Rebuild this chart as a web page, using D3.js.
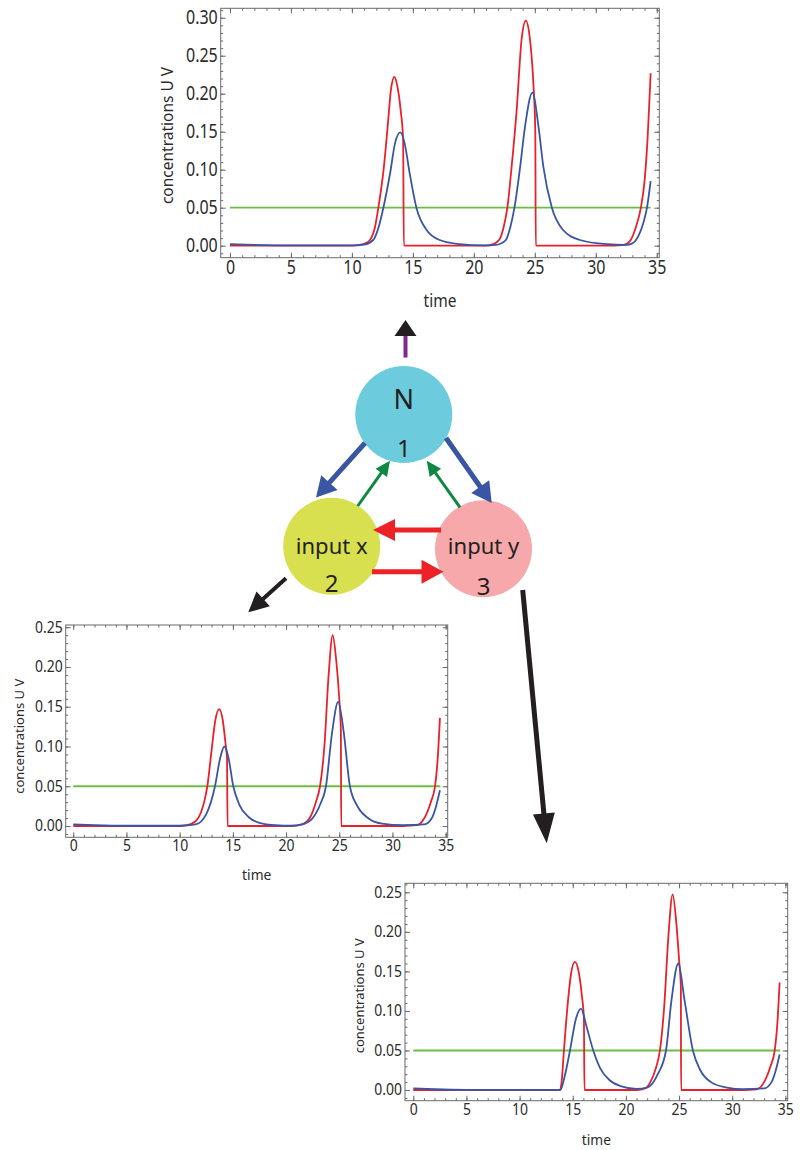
<!DOCTYPE html>
<html>
<head>
<meta charset="utf-8">
<script src="https://cdn.jsdelivr.net/npm/d3@7"></script>
<style>
  body { margin: 0; background: #fff; }
  svg { display: block; }
</style>
</head>
<body>
<script>
// values, pairs are [time, concentration]
// top plot (node 1)
var topU = [[0,0],[10,0],[10.6,0.001],[11.1,0.003],[11.5,0.008],[11.9,0.025],[12.17,0.05],[12.6,0.1],[12.95,0.16],[13.2,0.205],[13.48,0.222],[13.75,0.208],[14.0,0.178],[14.2,0.14],[14.26,0],
            [21,0],[21.6,0.002],[22.1,0.008],[22.45,0.025],[22.75,0.05],[23.1,0.104],[23.5,0.176],[23.92,0.272],[24.26,0.296],[24.6,0.272],[24.88,0.214],[25.04,0.15],[25.08,0],
            [31.5,0],[32.3,0.001],[32.8,0.006],[33.3,0.025],[33.7,0.05],[34.0,0.085],[34.2,0.128],[34.5,0.227]];
var topV = [[0,0.002],[2,0.001],[5,0.0003],[10,0.0003],[11,0.0015],[11.75,0.0075],[12.2,0.025],[12.58,0.05],[13.13,0.095],[13.54,0.135],[13.97,0.149],[14.32,0.135],[14.74,0.095],[15.29,0.05],[16.11,0.021],[17.2,0.0075],[18.85,0.002],[20.76,0.0003],
            [21.8,0.001],[22.6,0.007],[23.0,0.025],[23.33,0.05],[23.8,0.104],[24.2,0.157],[24.8,0.2015],[25.3,0.157],[25.7,0.104],[26.4,0.05],[27.3,0.021],[28.7,0.0075],[30.9,0.002],[32.5,0.001],
            [33.0,0.003],[33.5,0.013],[33.9,0.03],[34.2,0.05],[34.5,0.085]];
// bottom left plot (node 2)
var leftU = [[0,0],[10,0],[10.7,0.001],[11.5,0.006],[12.0,0.017],[12.3,0.03],[12.6,0.05],[13.0,0.095],[13.35,0.133],[13.72,0.147],[14.05,0.133],[14.3,0.105],[14.45,0.085],[14.5,0],
             [20.5,0],[21.5,0.002],[22.3,0.012],[22.8,0.03],[23.19,0.05],[23.6,0.1],[24.0,0.19],[24.38,0.24],[24.7,0.21],[25.0,0.16],[25.15,0.12],[25.18,0],
             [31,0],[32.3,0.001],[33.0,0.01],[33.6,0.03],[34.0,0.05],[34.25,0.085],[34.46,0.136]];
var leftV = [[0,0.002],[2,0.001],[5,0.0003],[10,0.0003],[11.5,0.002],[12.5,0.015],[13.32,0.05],[13.8,0.085],[14.2,0.1],[14.6,0.085],[15.04,0.05],[15.6,0.027],[16.5,0.011],[17.5,0.004],[19,0.001],[20.5,0.0003],
             [21.5,0.002],[22.5,0.01],[23.2,0.027],[23.75,0.05],[24.3,0.115],[24.9,0.156],[25.4,0.12],[26.0,0.05],[26.7,0.025],[27.7,0.01],[29,0.003],[31,0.001],
             [33,0.002],[33.7,0.01],[34.1,0.025],[34.46,0.045]];
// bottom right plot (node 3)
var rightU = [[0,0],[13.8,0],[13.95,0.01],[14.17,0.05],[14.5,0.105],[14.85,0.148],[15.2,0.162],[15.55,0.15],[15.85,0.12],[16.05,0.09],[16.1,0],
              [21,0],[21.8,0.002],[22.3,0.01],[22.8,0.027],[23.2,0.05],[23.6,0.105],[24.0,0.195],[24.4,0.2475],[24.75,0.21],[25.0,0.165],[25.17,0.13],[25.19,0],
              [31,0],[32.3,0.001],[33.0,0.01],[33.6,0.03],[34.0,0.05],[34.25,0.085],[34.46,0.136]];
var rightV = [[0,0.002],[2,0.001],[5,0.0003],[13.85,0.0002],[14.2,0.015],[14.74,0.05],[15.3,0.09],[15.78,0.103],[16.3,0.08],[16.93,0.05],[17.6,0.027],[18.5,0.012],[19.5,0.005],[21,0.0015],
              [22,0.003],[23,0.02],[23.77,0.05],[24.3,0.115],[24.93,0.16],[25.5,0.115],[26.3,0.05],[27,0.025],[28,0.01],[29.5,0.003],[31,0.001],
              [33,0.002],[33.7,0.01],[34.1,0.025],[34.46,0.045]];

var threshold = 0.05;
var timeSpan = [0, 34.5];
var xTicks = [0, 5, 10, 15, 20, 25, 30, 35];
var yTicksTop = [0, 0.05, 0.1, 0.15, 0.2, 0.25, 0.3];
var yTicksLow = [0, 0.05, 0.1, 0.15, 0.2, 0.25];
var xLabel = "time", yLabel = "concentrations U V";

var width = 802, height = 1150;
var redCol = "#e8212a", blueCol = "#3a55a6", greenCol = "#6cbd45";
var font = "Noto Sans, sans-serif";

var svg = d3.select("body").append("svg")
    .attr("width", width)
    .attr("height", height);

// the source plots were pasted in a bit stretched vertically, so stretch text the same way
function stretch(sel, sy) {
  sel.each(function() {
    var t = d3.select(this);
    var x = +t.attr("x") || 0, y = +t.attr("y") || 0;
    t.attr("x", 0).attr("y", 0)
      .attr("transform", "translate(" + x + "," + y + ") scale(1," + sy + ")");
  });
}

// one framed plot, Mathematica style ticks pointing inwards on all sides
function plot(p) {
  var x = d3.scaleLinear().domain(p.xdom).range([p.left, p.right]);
  var y = d3.scaleLinear().domain(p.ydom).range([p.bottom, p.top]);
  var g = svg.append("g");

  var xMinor = d3.range(0, 36, 1).filter(function(d){ return d >= p.xdom[0] && d <= p.xdom[1]; });
  var yMinor = d3.range(-1, 32, 1).map(function(d){ return d / 100; })
      .filter(function(d){ return d >= p.ydom[0] && d <= p.ydom[1]; });

  function ax(axis, tr, ticks, size, labels, pad) {
    var a = g.append("g").attr("transform", tr)
      .call(axis.tickValues(ticks).tickSizeInner(-size).tickSizeOuter(0).tickPadding(pad || 0)
        .tickFormat(labels ? d3.format(labels) : ""));
    a.select(".domain").remove();
    a.selectAll("line").attr("stroke", "#6b6b6b");
    a.selectAll("text").attr("fill", "#2b2b2b").style("font-family", font).style("font-size", p.tick + "px");
    return a;
  }
  // bottom + top
  ax(d3.axisBottom(x), "translate(0," + p.bottom + ")", xMinor, 2.5);
  var xb = ax(d3.axisBottom(x), "translate(0," + p.bottom + ")", xTicks.filter(function(d){ return d <= p.xdom[1]; }), 5, "d", p.xpad);
  ax(d3.axisTop(x), "translate(0," + p.top + ")", xMinor, 2.5);
  ax(d3.axisTop(x), "translate(0," + p.top + ")", xTicks, 5);
  // left + right
  ax(d3.axisLeft(y), "translate(" + p.left + ",0)", yMinor, 2.5);
  var yl = ax(d3.axisLeft(y), "translate(" + p.left + ",0)", p.yTicks, 5, ".2f", 3);
  ax(d3.axisRight(y), "translate(" + p.right + ",0)", yMinor, 2.5);
  ax(d3.axisRight(y), "translate(" + p.right + ",0)", p.yTicks, 5);
  stretch(xb.selectAll("text"), p.sy);
  stretch(yl.selectAll("text"), p.sy);

  g.append("rect")
    .attr("x", p.left).attr("y", p.top)
    .attr("width", p.right - p.left).attr("height", p.bottom - p.top)
    .attr("fill", "none").attr("stroke", "#6b6b6b").attr("stroke-width", 1);

  var line = d3.line()
    .x(function(d){ return x(d[0]); })
    .y(function(d){ return y(d[1]); })
    .curve(d3.curveMonotoneX);

  g.append("path").datum(timeSpan.map(function(t){ return [t, threshold]; }))
    .attr("d", line).attr("fill", "none").attr("stroke", greenCol).attr("stroke-width", 1.8);
  g.append("path").datum(p.u)
    .attr("d", line).attr("fill", "none").attr("stroke", redCol).attr("stroke-width", 1.8);
  g.append("path").datum(p.v)
    .attr("d", line).attr("fill", "none").attr("stroke", blueCol).attr("stroke-width", 1.8);

  var tl = g.append("text")
    .attr("x", (p.left + p.right) / 2).attr("y", p.bottom + p.tdy)
    .attr("text-anchor", "middle")
    .style("font-family", font).style("font-size", p.lab + "px").attr("fill", "#2b2b2b")
    .text(xLabel);
  stretch(tl, p.sy);
  g.append("text")
    .attr("transform", "translate(" + p.ylx + "," + p.yly + ") rotate(-90)")
    .attr("text-anchor", "middle")
    .style("font-family", font).style("font-size", p.ylab + "px").attr("fill", "#2b2b2b")
    .text(yLabel);
}

plot({left: 220.7, right: 659.3, top: 8.3, bottom: 257.7, xdom: [-0.76, 35.21], ydom: [-0.0158, 0.3124],
      yTicks: yTicksTop, u: topU, v: topV, tick: 16, lab: 15.5, ylab: 15.5, sy: 1.2, xpad: 3, tdy: 49, ylx: 173, yly: 135.5});
plot({left: 65.7, right: 447.7, top: 625, bottom: 837.3, xdom: [-0.71, 35.19], ydom: [-0.0142, 0.2528],
      yTicks: yTicksLow, u: leftU, v: leftV, tick: 14, lab: 13.8, ylab: 13, sy: 1.1, xpad: 3, tdy: 43, ylx: 24, yly: 736.3});
plot({left: 405, right: 787.7, top: 883.3, bottom: 1100.7, xdom: [-0.78, 35.22], ydom: [-0.0135, 0.2614],
      yTicks: yTicksLow, u: rightU, v: rightV, tick: 14, lab: 13.8, ylab: 13, sy: 1.1, xpad: 3, tdy: 44, ylx: 364, yly: 995.8});

// network diagram between the plots
var nodes = [
  {name: "N", num: "1", x: 403.8, y: 414.5, fill: "#6ccbdc", nameSize: 27, nameY: 408.5, numY: 457},
  {name: "input x", num: "2", x: 331.7, y: 546.2, fill: "#d9e04f", nameSize: 22, nameY: 553.5, numY: 592},
  {name: "input y", num: "3", x: 483.5, y: 548.7, fill: "#f6a8aa", nameSize: 22, nameY: 553.5, numY: 595}
];
var arrows = [
  {from: [365, 443], to: [316, 497.5], col: "#3a55a4", w: 5, hl: 20, hw: 22},
  {from: [446, 438], to: [491.7, 503], col: "#3a55a4", w: 5, hl: 20, hw: 22},
  {from: [357.7, 506], to: [390, 460.7], col: "#0e8743", w: 3, hl: 15, hw: 14},
  {from: [460, 507.3], to: [426.7, 460.7], col: "#0e8743", w: 3, hl: 15, hw: 14},
  {from: [441, 530], to: [373, 530], col: "#ec2227", w: 5, hl: 22, hw: 22},
  {from: [372, 571.7], to: [443.5, 571.7], col: "#ec2227", w: 5, hl: 22, hw: 24},
  {from: [286, 578.3], to: [248.3, 612.3], col: "#231f20", w: 4, hl: 20, hw: 20},
  {from: [522.7, 590], to: [546.7, 843.3], col: "#231f20", w: 5, hl: 30, hw: 22}
];

var net = svg.append("g");
nodes.forEach(function(n) {
  net.append("circle").attr("cx", n.x).attr("cy", n.y).attr("r", 48.5).attr("fill", n.fill);
  net.append("text").attr("x", n.x).attr("y", n.nameY).attr("text-anchor", "middle")
    .style("font-family", font).style("font-size", n.nameSize + "px").attr("fill", "#231f20")
    .text(n.name);
  net.append("text").attr("x", n.x).attr("y", n.numY).attr("text-anchor", "middle")
    .style("font-family", font).style("font-size", "24px").attr("fill", "#231f20")
    .text(n.num);
});

function arrow(a, headCol) {
  var dx = a.to[0] - a.from[0], dy = a.to[1] - a.from[1];
  var len = Math.sqrt(dx * dx + dy * dy), ux = dx / len, uy = dy / len;
  var bx = a.to[0] - ux * a.hl, by = a.to[1] - uy * a.hl;
  net.append("line")
    .attr("x1", a.from[0]).attr("y1", a.from[1])
    .attr("x2", bx + ux).attr("y2", by + uy)
    .attr("stroke", a.col).attr("stroke-width", a.w);
  net.append("path")
    .attr("d", "M" + a.to[0] + "," + a.to[1] +
      "L" + (bx - uy * a.hw / 2) + "," + (by + ux * a.hw / 2) +
      "L" + (bx + uy * a.hw / 2) + "," + (by - ux * a.hw / 2) + "Z")
    .attr("fill", headCol || a.col);
}
arrows.forEach(function(a){ arrow(a); });
// the output arrow of node 1: purple shaft, black head
arrow({from: [405.5, 357.5], to: [405.5, 320], col: "#7d2b8b", w: 4, hl: 16, hw: 22}, "#231f20");
</script>
</body>
</html>
